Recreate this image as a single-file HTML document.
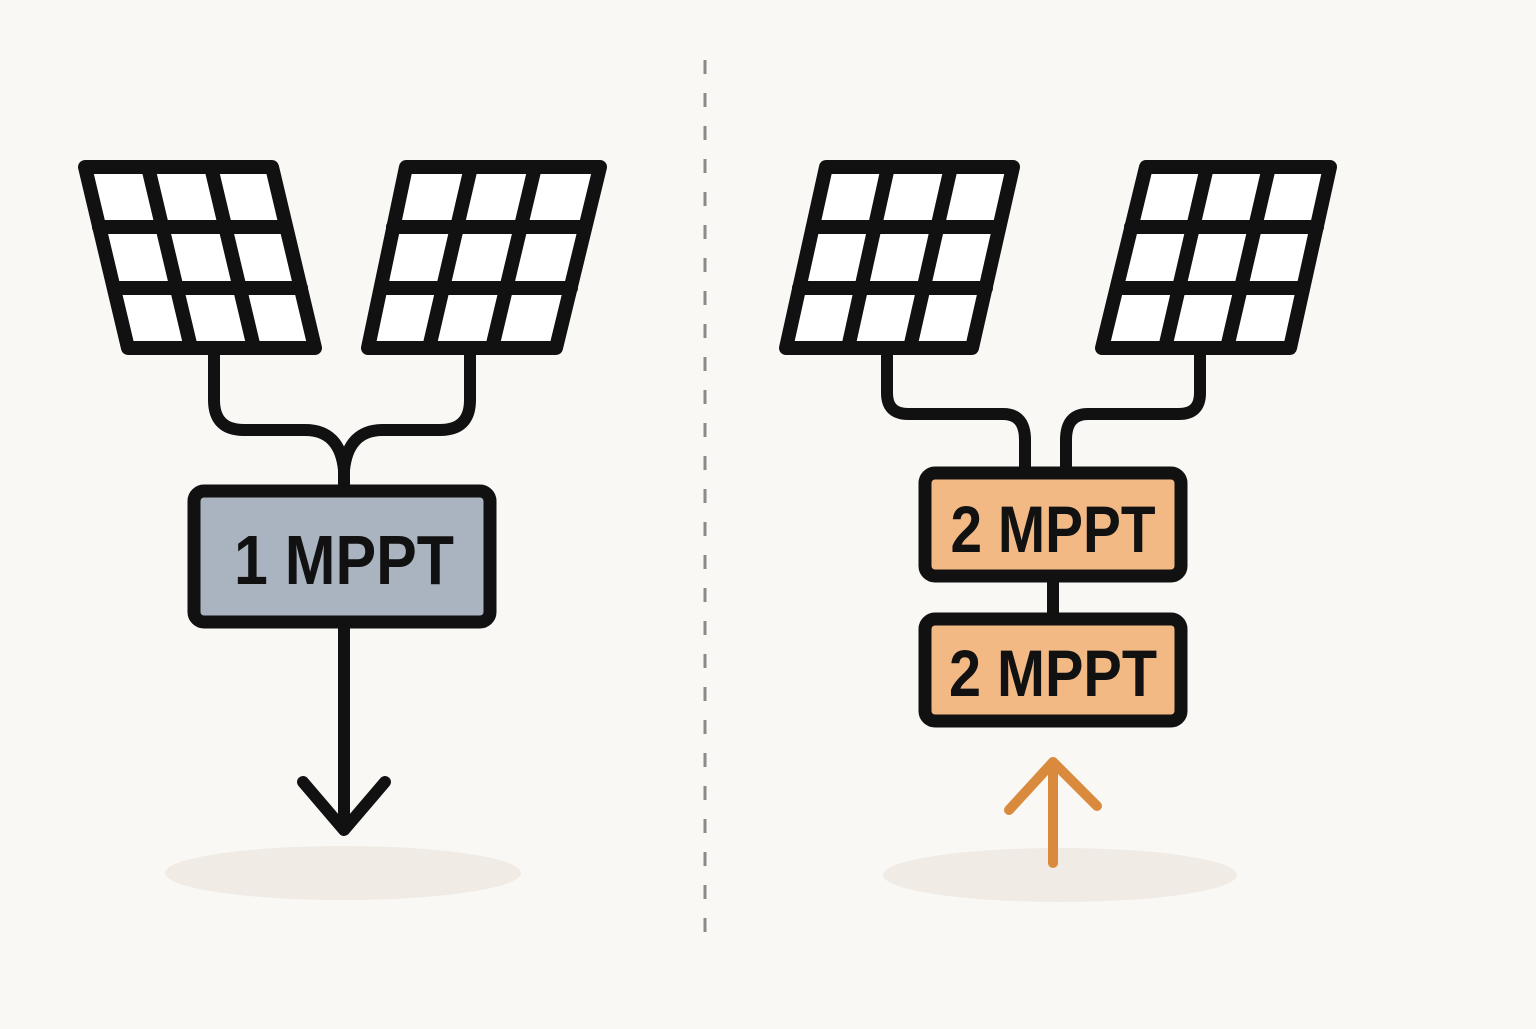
<!DOCTYPE html>
<html><head><style>html,body{margin:0;padding:0;background:#faf8f5}</style></head>
<body>
<svg width="1536" height="1024" viewBox="0 0 1536 1024" xmlns="http://www.w3.org/2000/svg">
<rect width="1536" height="1024" fill="#faf8f5"/>
<line x1="705" y1="60" x2="705" y2="948" stroke="#8a8a8a" stroke-width="3" stroke-dasharray="14 19"/>
<ellipse cx="343" cy="873" rx="178" ry="27" fill="#f0ebe4"/>
<ellipse cx="1060" cy="875" rx="177" ry="27" fill="#f0ebe4"/>
<g fill="none" stroke="#111" stroke-width="14" stroke-linejoin="round" stroke-linecap="round">
 <!-- panel 1 -->
 <polygon points="85,167 272,167 315,348 128,348" fill="#fff"/>
 <line x1="99" y1="227" x2="286" y2="227"/><line x1="114" y1="288" x2="301" y2="288"/>
 <line x1="148" y1="167" x2="191" y2="348" stroke-linecap="butt"/><line x1="211" y1="167" x2="254" y2="348" stroke-linecap="butt"/>
 <!-- panel 2 -->
 <polygon points="406,167 600,167 556,348 368,348" fill="#fff"/>
 <line x1="393" y1="227" x2="585" y2="227"/><line x1="381" y1="288" x2="571" y2="288"/>
 <line x1="471" y1="167" x2="429" y2="348" stroke-linecap="butt"/><line x1="535" y1="167" x2="492" y2="348" stroke-linecap="butt"/>
 <!-- panel 3 -->
 <polygon points="826,167 1013,167 972,348 786,348" fill="#fff"/>
 <line x1="813" y1="227" x2="999" y2="227"/><line x1="799" y1="288" x2="986" y2="288"/>
 <line x1="888" y1="167" x2="848" y2="348" stroke-linecap="butt"/><line x1="951" y1="167" x2="910" y2="348" stroke-linecap="butt"/>
 <!-- panel 4 -->
 <polygon points="1146,167 1330,167 1290,348 1102,348" fill="#fff"/>
 <line x1="1131" y1="227" x2="1317" y2="227"/><line x1="1117" y1="288" x2="1303" y2="288"/>
 <line x1="1207" y1="167" x2="1165" y2="348" stroke-linecap="butt"/><line x1="1269" y1="167" x2="1227" y2="348" stroke-linecap="butt"/>
 <!-- left wires -->
 <path d="M214,355 V400 Q214,430 244,430 H305 Q340,430 344,470 V488" stroke-width="12"/>
 <path d="M470,355 V400 Q470,430 440,430 H383 Q348,430 344,470" stroke-width="12"/>
 <line x1="344" y1="628" x2="344" y2="828" stroke-width="12"/>
 <polyline points="303,782 344,830 385,782" stroke-width="12"/>
 <!-- right wires -->
 <path d="M887,355 V393 Q887,414 908,414 H1003 Q1025,414 1025,440 V468" stroke-width="12"/>
 <path d="M1200,355 V393 Q1200,414 1179,414 H1088 Q1066,414 1066,440 V468" stroke-width="12"/>
 <line x1="1053" y1="582" x2="1053" y2="614" stroke-width="12"/>
</g>
<rect x="194" y="491" width="296" height="131" rx="10" fill="#aab4c0" stroke="#111" stroke-width="13"/>
<rect x="925" y="473" width="256" height="103" rx="10" fill="#f2b985" stroke="#111" stroke-width="13"/>
<rect x="925" y="619" width="256" height="102" rx="10" fill="#f2b985" stroke="#111" stroke-width="13"/>
<g font-family="Liberation Sans, sans-serif" font-weight="bold" fill="#111" text-anchor="middle">
 <text x="344" y="584" font-size="70" textLength="220" lengthAdjust="spacingAndGlyphs">1 MPPT</text>
 <text x="1053" y="552" font-size="66" textLength="205" lengthAdjust="spacingAndGlyphs">2 MPPT</text>
 <text x="1053" y="696" font-size="66" textLength="208" lengthAdjust="spacingAndGlyphs">2 MPPT</text>
</g>
<g stroke="#d98a3c" stroke-width="10" stroke-linecap="round" stroke-linejoin="round" fill="none">
 <line x1="1053" y1="863" x2="1053" y2="762"/>
 <polyline points="1009,810 1053,762 1097,806"/>
</g>
</svg>
</body></html>
